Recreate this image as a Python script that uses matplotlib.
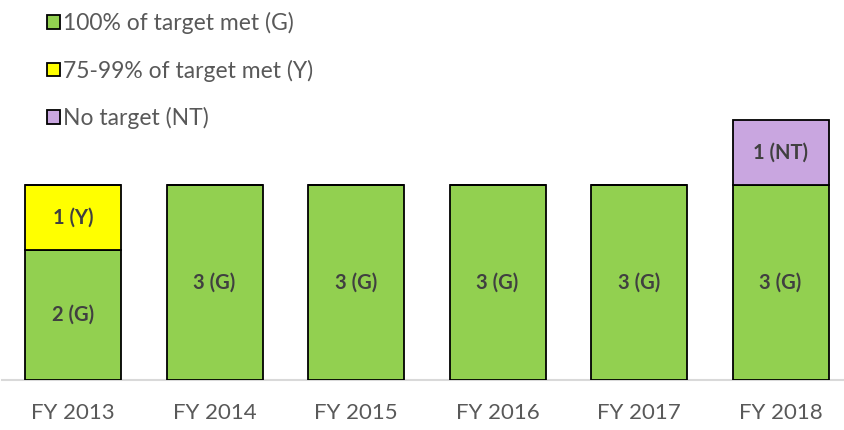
import matplotlib
matplotlib.use("Agg")
import matplotlib.pyplot as plt
from matplotlib.patches import Patch

plt.rcParams['font.family'] = ['Lato', 'DejaVu Sans']

years = ["FY 2013", "FY 2014", "FY 2015", "FY 2016", "FY 2017", "FY 2018"]
green = [2, 3, 3, 3, 3, 3]
yellow = [1, 0, 0, 0, 0, 0]
no_target = [0, 0, 0, 0, 0, 1]

series = [
    ("100% of target met (G)", green, "#92D050", "G"),
    ("75-99% of target met (Y)", yellow, "#FFFF00", "Y"),
    ("No target (NT)", no_target, "#C9A6E0", "NT"),
]

W, H = 844, 430
fig = plt.figure(figsize=(W / 100, H / 100), dpi=100)
ax = fig.add_axes([2 / W, 50 / H, 842 / W, 380 / H])

xs = list(range(len(years)))
bottoms = [0] * len(years)
for name, vals, color, tag in series:
    ax.bar(xs, vals, bottom=bottoms, width=0.678, color=color,
           edgecolor="black", linewidth=1.3, zorder=3)
    for x, v, b in zip(xs, vals, bottoms):
        if v > 0:
            ax.text(x, b + v / 2, f"{v} ({tag})", ha="center", va="center",
                    fontsize=14.5, fontweight="bold", color="#404040", zorder=4)
    bottoms = [b + v for b, v in zip(bottoms, vals)]

ax.set_xlim(-0.502, 5.448)
ax.set_ylim(0, 380 / 65)
ax.set_xticks(xs)
ax.set_xticklabels(years, fontsize=16, color="#595959")
ax.tick_params(axis="x", length=0, pad=16.5)
ax.set_yticks([])
for s in ["top", "right", "left"]:
    ax.spines[s].set_visible(False)
ax.spines["bottom"].set_color("#D9D9D9")
ax.spines["bottom"].set_linewidth(1.5)

handles = [Patch(facecolor=c, edgecolor="black", linewidth=1.3, label=n)
           for n, _, c, _ in series]
fig.legend(handles=handles, loc="upper left", bbox_to_anchor=(38 / W, 1 - 3 / H),
           frameon=False, fontsize=16.5, labelcolor="#595959",
           handlelength=0.55, handleheight=0.55, handletextpad=0.15,
           labelspacing=1.1, borderaxespad=0)

fig.savefig("out.png", dpi=100)
